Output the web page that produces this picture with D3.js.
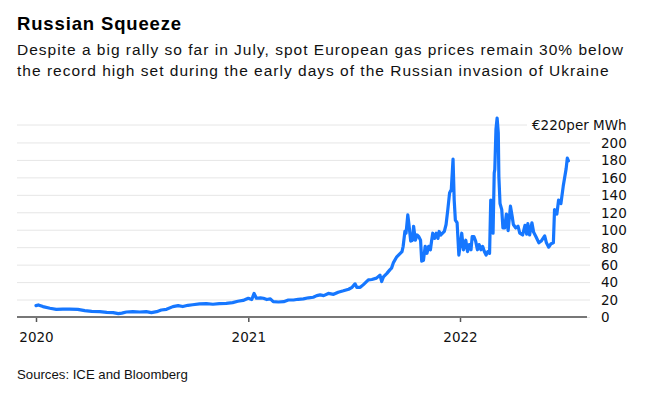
<!DOCTYPE html>
<html>
<head>
<meta charset="utf-8">
<script src="https://cdn.jsdelivr.net/npm/d3@7"></script>
<style>
  html, body { margin: 0; padding: 0; background: #fff; }
  svg { display: block; }
  .title { font-family: "Liberation Sans", Arial, sans-serif; font-weight: bold; font-size: 18.5px; fill: #000; }
  .sub { font-family: "Liberation Sans", Arial, sans-serif; font-size: 15.5px; fill: #111; }
  .src { font-family: "Liberation Sans", Arial, sans-serif; font-size: 13.2px; fill: #111; }
  .tick text, .unit { font-family: "DejaVu Sans", sans-serif; font-size: 13.5px; fill: #111; }
</style>
</head>
<body>
<svg id="chart" width="646" height="396"></svg>
<script>
// ---- data ----
const dates = [
"2020-01-01","2020-01-05","2020-01-13","2020-01-25","2020-02-05","2020-02-16","2020-02-28","2020-03-13","2020-03-25","2020-04-06",
"2020-04-20","2020-05-02","2020-05-13","2020-05-22","2020-05-28","2020-06-05","2020-06-16","2020-06-28","2020-07-09","2020-07-18",
"2020-07-27","2020-08-04","2020-08-13","2020-08-24","2020-09-02","2020-09-10","2020-09-19","2020-09-27","2020-10-09","2020-10-21",
"2020-11-01","2020-11-12","2020-11-24","2020-12-05","2020-12-14","2020-12-23",
"2021-01-01","2021-01-07","2021-01-11","2021-01-15","2021-01-22","2021-01-27","2021-02-02","2021-02-08","2021-02-13","2021-02-22",
"2021-03-03","2021-03-11","2021-03-20","2021-03-28","2021-04-06","2021-04-15","2021-04-23","2021-04-29","2021-05-05","2021-05-11",
"2021-05-19","2021-05-28","2021-06-05","2021-06-14","2021-06-23","2021-06-29","2021-07-04","2021-07-07","2021-07-13","2021-07-18",
"2021-07-27","2021-08-02","2021-08-10","2021-08-16","2021-08-19","2021-08-22","2021-08-28","2021-09-02","2021-09-05","2021-09-08",
"2021-09-14","2021-09-17","2021-09-20","2021-09-23","2021-09-25","2021-09-28","2021-09-30","2021-10-03","2021-10-05","2021-10-08",
"2021-10-11","2021-10-13","2021-10-16","2021-10-19","2021-10-22","2021-10-25","2021-10-27","2021-10-30","2021-11-02","2021-11-05",
"2021-11-08","2021-11-11","2021-11-13","2021-11-15","2021-11-18","2021-11-21","2021-11-24","2021-11-26","2021-11-29","2021-12-02",
"2021-12-05","2021-12-08","2021-12-11","2021-12-14","2021-12-17","2021-12-20","2021-12-22","2021-12-24","2021-12-27","2021-12-30",
"2022-01-02","2022-01-04","2022-01-07","2022-01-11","2022-01-14","2022-01-17","2022-01-20","2022-01-22","2022-01-25","2022-01-28",
"2022-01-31","2022-02-03","2022-02-06","2022-02-09","2022-02-12","2022-02-15","2022-02-18","2022-02-21","2022-02-23","2022-02-25",
"2022-02-27","2022-03-01","2022-03-02","2022-03-04","2022-03-06","2022-03-08","2022-03-09","2022-03-11","2022-03-14","2022-03-16",
"2022-03-19","2022-03-22","2022-03-25","2022-03-29","2022-04-01","2022-04-03","2022-04-07","2022-04-11","2022-04-14","2022-04-19",
"2022-04-23","2022-04-26","2022-04-28","2022-05-01","2022-05-05","2022-05-08","2022-05-12","2022-05-17","2022-05-21","2022-05-27",
"2022-05-30","2022-06-03","2022-06-07","2022-06-11","2022-06-13","2022-06-17","2022-06-20","2022-06-24","2022-06-28","2022-07-03",
"2022-07-05","2022-07-07"
];
const prices = [
13,13.8,11.9,10,8.8,9,9,8.8,7.3,6.5,
6.1,5.4,5,3.8,4.5,5.7,6.1,5.7,6.1,5,
6.1,8,8.8,11.9,13,12,13.4,14,15,15.4,
14.6,15.4,15.7,16.5,18,19,
21.5,20,27,21.5,22,21.5,20,20.7,17.6,17.2,
17.6,19.5,19.5,20.3,20.7,22,22.6,24.5,25.3,24.5,
27,26,28.4,30,31.8,34,38,34,34,36.8,
42.5,43,44.5,48,40.6,46,50,54,56,62,
69,71,73,75,81,98,96,117,106,87,
88,104,88,94,92,88,64,65,81,73,
81,77,87,96,90,96,90,98,94,96,
98,106,123,142,146,181,134,111,108,71,
85,96,77,88,75,83,77,92,92,87,
77,83,77,81,75,71,75,73,134,133,
96,165,169,215,228,211,161,130,123,102,
102,118,99,127,115,106,102,104,96,94,
105,95,107,94,108,97,92,85,87,93,
85,80,84,85,123,118,134,130,150,170,
182,179
];
const yTicks = [0,20,40,60,80,100,120,140,160,180,200];
const yTopTick = 220;
const yTopLabel = "€220per MWh";
const xTickYears = ["2020-01-01","2021-01-01","2022-01-01"];
const titleText = "Russian Squeeze";
const subtitleLines = [
  "Despite a big rally so far in July, spot European gas prices remain 30% below",
  "the record high set during the early days of the Russian invasion of Ukraine"
];
const sourceText = "Sources: ICE and Bloomberg";

// ---- chart ----
const parse = d3.timeParse("%Y-%m-%d");
const data = dates.map((d, i) => ({ date: parse(d), value: prices[i] }));

const svg = d3.select("#chart");
const plotLeft = 17, plotRight = 590;

const x = d3.scaleTime()
  .domain([parse("2020-01-01"), parse("2022-01-01")])
  .range([36, 460]);
const y = d3.scaleLinear().domain([0, 220]).range([317, 125]);

// fit text to a target width by adjusting letter spacing
function fitSpacing(sel, target) {
  const n = sel.text().length;
  const w = sel.node().getComputedTextLength();
  const ls = (target - w) / n;
  sel.style("letter-spacing", ls + "px");
  return ls;
}

// title & subtitle
const title = svg.append("text").attr("class", "title").attr("x", 17).attr("y", 30.3).text(titleText);
fitSpacing(title, 165);
const subs = subtitleLines.map((t, i) =>
  svg.append("text").attr("class", "sub").attr("x", 17).attr("y", 55.3 + i * 20.8).text(t));
const ls = fitSpacing(subs[0], 607);
subs[1].style("letter-spacing", ls + "px");

// y axis with gridlines
const yAxis = d3.axisRight(y)
  .tickValues(yTicks)
  .tickSize(-(plotRight - plotLeft))
  .tickPadding(11)
  .tickFormat(d3.format("d"));
const gy = svg.append("g").attr("transform", `translate(${plotRight},0)`).call(yAxis);
gy.select(".domain").remove();
gy.selectAll(".tick line").attr("stroke", "#e6e6e6").attr("stroke-width", 1);
gy.selectAll(".tick text").attr("dy", "0.36em").attr("text-anchor", "start");

// top tick (220) with unit label
svg.append("line")
  .attr("x1", plotLeft).attr("x2", 527)
  .attr("y1", y(yTopTick)).attr("y2", y(yTopTick))
  .attr("stroke", "#e6e6e6").attr("stroke-width", 1);
svg.append("text").attr("class", "unit")
  .attr("x", 532).attr("y", y(yTopTick)).attr("dy", "0.36em")
  .text(yTopLabel);

// x axis
const xAxis = d3.axisBottom(x)
  .tickValues(xTickYears.map(parse))
  .tickSize(5)
  .tickPadding(9)
  .tickFormat(d3.timeFormat("%Y"));
const gx = svg.append("g").attr("transform", `translate(0,${y(0)})`).call(xAxis);
gx.select(".domain").remove();
gx.selectAll(".tick line").attr("stroke", "#555").attr("stroke-width", 1.5);
gx.selectAll(".tick text").attr("dy", "0.8em");
gx.append("line")
  .attr("x1", plotLeft).attr("x2", 587).attr("y1", 0).attr("y2", 0)
  .attr("stroke", "#777").attr("stroke-width", 2);

// price line
const line = d3.line().x(d => x(d.date)).y(d => y(d.value)).curve(d3.curveLinear);
svg.append("path")
  .datum(data)
  .attr("fill", "none")
  .attr("stroke", "#1677ff")
  .attr("stroke-width", 3.2)
  .attr("stroke-linejoin", "round")
  .attr("stroke-linecap", "round")
  .attr("d", line);

// source
svg.append("text").attr("class", "src").attr("x", 17).attr("y", 379).text(sourceText);
</script>
</body>
</html>
